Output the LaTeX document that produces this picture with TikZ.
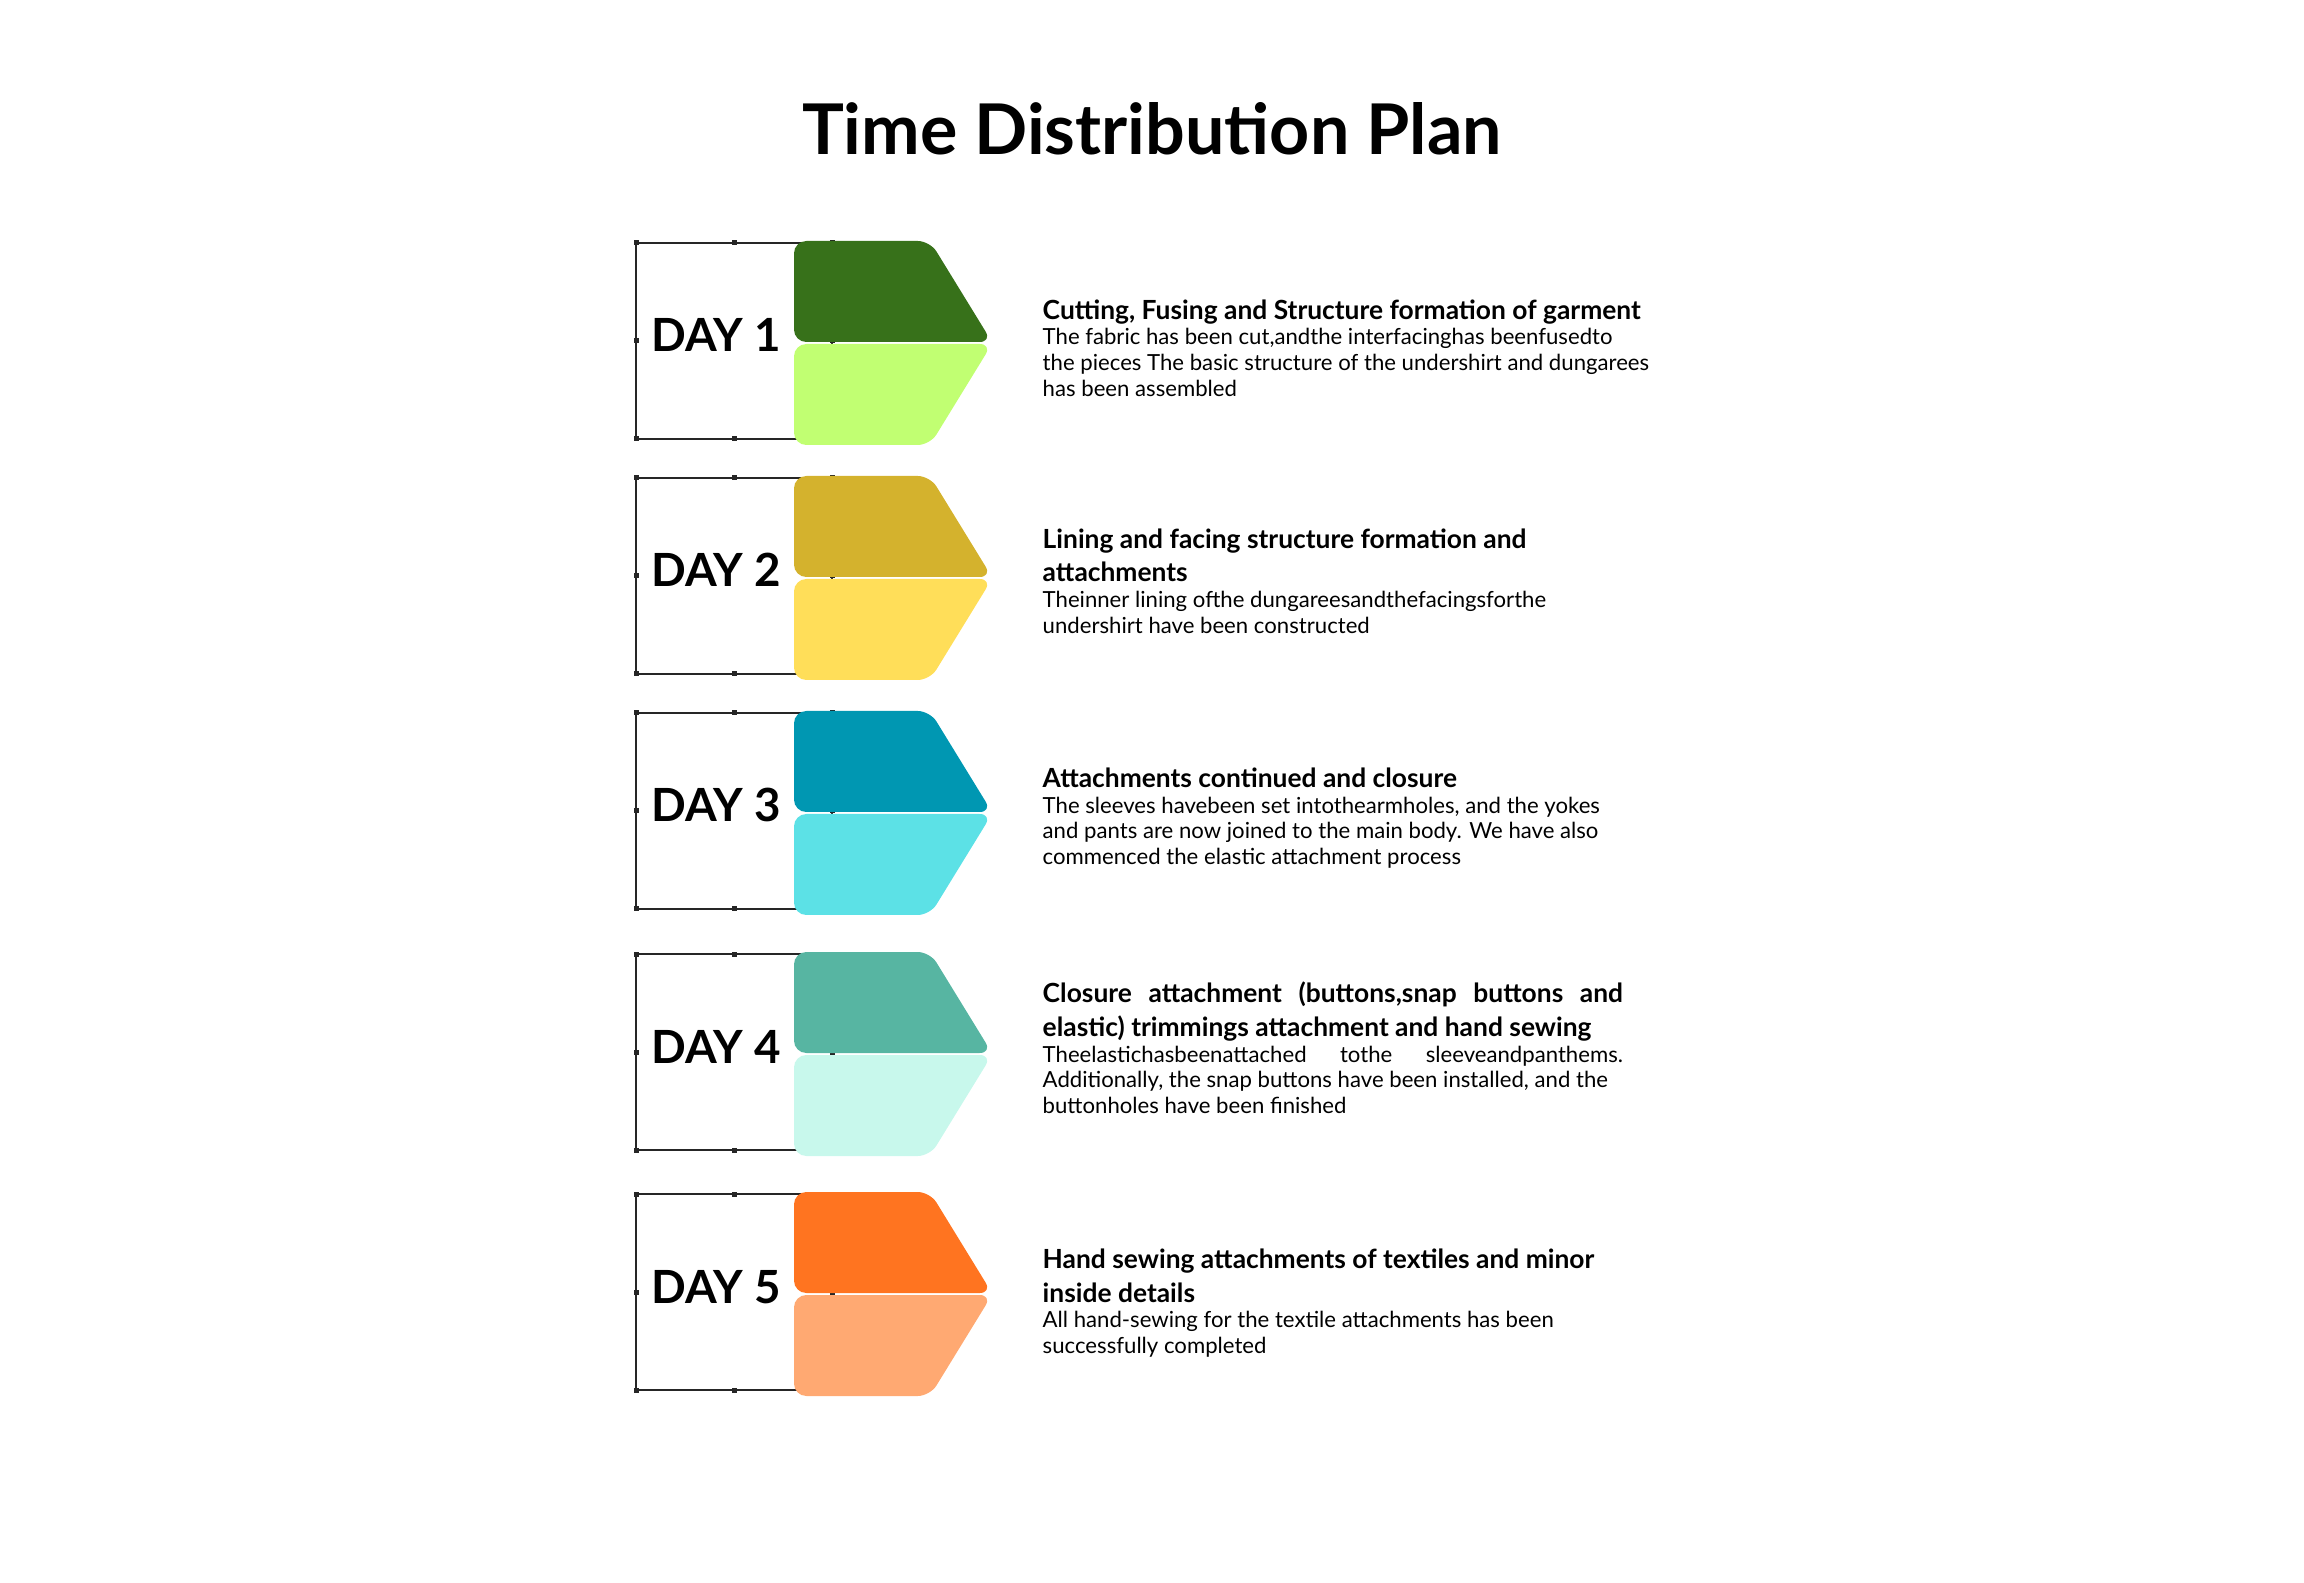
\documentclass[tikz,border=0pt]{standalone}
\usepackage{fontspec}
\setmainfont{Lato}
\definecolor{dayonedark}{HTML}{37711A}
\definecolor{dayonelight}{HTML}{C1FF72}
\definecolor{daytwodark}{HTML}{D4B22D}
\definecolor{daytwolight}{HTML}{FFDE59}
\definecolor{daythreedark}{HTML}{0097B2}
\definecolor{daythreelight}{HTML}{5CE1E6}
\definecolor{dayfourdark}{HTML}{57B5A2}
\definecolor{dayfourlight}{HTML}{C8F8EC}
\definecolor{dayfivedark}{HTML}{FF7420}
\definecolor{dayfivelight}{HTML}{FFA972}
\newcommand{\headfont}{\fontsize{7.5pt}{9.6pt}\selectfont\bfseries}
\newcommand{\bodyfont}{\fontsize{6.3pt}{7.3pt}\selectfont}
\newcommand{\fullline}[1]{\leavevmode\hbox to 165pt{\spaceskip=\fontdimen2\font plus 1fil\relax #1}}
\tikzset{
  dayframe/.style={black!85, line width=0.4pt},
  daylabel/.style={font=\fontsize{13pt}{15pt}\selectfont\bfseries, anchor=base},
  plantext/.style={anchor=west, text width=240pt, align=flush left, inner sep=0pt}
}
\begin{document}
\begin{tikzpicture}[x=0.01cm, y=-0.01cm]
    \useasboundingbox (0,0) rectangle (2304,1583);
    \node[font=\fontsize{19.9pt}{23pt}\selectfont\bfseries, anchor=base] (title) at (1152,155) {Time Distribution Plan};
    \foreach \n/\T/\dk/\lt in {1/241/dayonedark/dayonelight, 2/476/daytwodark/daytwolight, 3/711/daythreedark/daythreelight, 4/952/dayfourdark/dayfourlight, 5/1192/dayfivedark/dayfivelight}{
        \draw[dayframe] (636,{\T+2}) rectangle (832,{\T+198});
        \foreach \hx/\hy in {636/2, 734/2, 832/2, 636/100, 832/100, 636/198, 734/198, 832/198}
            \fill[black!85] ({\hx-2.5},{\T+\hy-2.5}) rectangle ({\hx+2.5},{\T+\hy+2.5});
        \fill[\dk, rounded corners=3.5pt] (794,\T) -- (930,\T) -- (992,{\T+101}) -- (794,{\T+101}) -- cycle;
        \fill[\lt, rounded corners=3.5pt] (794,{\T+103}) -- (992,{\T+103}) -- (930,{\T+204}) -- (794,{\T+204}) -- cycle;
        \node[daylabel] (day\n) at (716,{\T+111}) {DAY \n};
    }
    \node[plantext] (plan1) at (1042,348) {{\headfont Cutting, Fusing and Structure formation of garment\par}
        {\bodyfont The fabric has been cut,andthe interfacinghas beenfusedto\\the pieces The basic structure of the undershirt and dungarees\\has been assembled\par}};
    \node[plantext] (plan2) at (1042,581) {{\headfont Lining and facing structure formation and\\attachments\par}
        {\bodyfont Theinner lining ofthe dungareesandthefacingsforthe\\undershirt have been constructed\par}};
    \node[plantext] (plan3) at (1042,818) {{\headfont Attachments continued and closure\par}
        {\bodyfont The sleeves havebeen set intothearmholes, and the yokes\\and pants are now joined to the main body. We have also\\commenced the elastic attachment process\par}};
    \node[plantext] (plan4) at (1042,1048) {{\headfont \fullline{Closure attachment (buttons,snap buttons and}\\elastic) trimmings attachment and hand sewing\par}
        {\bodyfont \fullline{Theelastichasbeenattached tothe sleeveandpanthems.}\\Additionally, the snap buttons have been installed, and the\\buttonholes have been finished\par}};
    \node[plantext] (plan5) at (1042,1303) {{\headfont Hand sewing attachments of textiles and minor\\inside details\par}
        {\bodyfont All hand-sewing for the textile attachments has been\\successfully completed\par}};
\end{tikzpicture}
\end{document}
